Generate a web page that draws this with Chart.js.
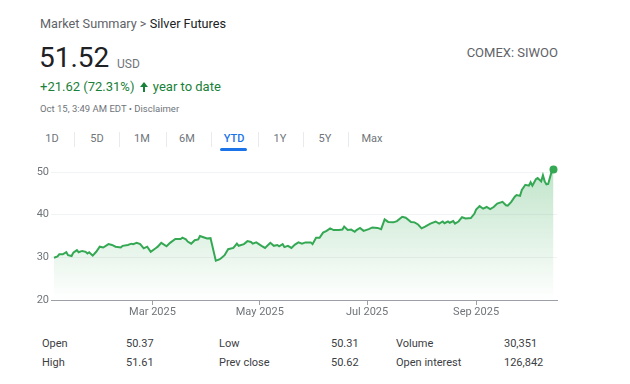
<!DOCTYPE html>
<html>
<head>
<meta charset="utf-8">
<script src="https://cdn.jsdelivr.net/npm/chart.js"></script>
<style>
  body { margin: 0; background: #fff; font-family: Roboto, Arial, sans-serif; }
  #page { position: relative; width: 630px; height: 384px; overflow: hidden; }
  .t { position: absolute; line-height: 1; white-space: nowrap; }
  .tab { position: absolute; top: 133px; font-size: 11px; line-height: 11px; color: #70757a; transform: translateX(-50%); }
  .sep { position: absolute; top: 132px; width: 1px; height: 15px; background: #e8eaed; }
  .row { position: absolute; font-size: 11px; line-height: 11px; color: #3c4043; }
  .arrow { display: inline-block; position: relative; width: 9px; height: 10px; margin: 0 1px 0 2px; vertical-align: -1px; }
  .arrow::before { content: ""; position: absolute; left: 0; top: 0; border-left: 4.5px solid transparent; border-right: 4.5px solid transparent; border-bottom: 5px solid #188038; }
  .arrow::after { content: ""; position: absolute; left: 3.5px; top: 4px; width: 2px; height: 6px; background: #188038; }
  canvas { position: absolute; left: 0; top: 150px; }
</style>
</head>
<body>
<div id="page">
  <div class="t" style="left:40px;top:18px;font-size:12.7px;color:#5f6368;">Market Summary &gt; <span style="color:#202124">Silver Futures</span></div>
  <div class="t" style="left:39px;top:44px;font-size:28px;color:#202124;">51.52</div>
  <div class="t" style="left:117px;top:58px;font-size:12px;color:#70757a;">USD</div>
  <div class="t" style="right:72px;top:46px;font-size:13px;color:#5f6368;">COMEX: SIWOO</div>
  <div class="t" style="left:40px;top:80px;font-size:13px;color:#188038;">+21.62 (72.31%) <span class="arrow"></span> year to date</div>
  <div class="t" style="left:40px;top:104px;font-size:9.5px;color:#70757a;">Oct 15, 3:49 AM EDT &bull; Disclaimer</div>

  <div class="tab" style="left:52px">1D</div>
  <div class="sep" style="left:74px"></div>
  <div class="tab" style="left:97px">5D</div>
  <div class="sep" style="left:119px"></div>
  <div class="tab" style="left:142px">1M</div>
  <div class="sep" style="left:166px"></div>
  <div class="tab" style="left:187px">6M</div>
  <div class="sep" style="left:211px"></div>
  <div class="tab" style="left:234px;color:#1a73e8;font-weight:500">YTD</div>
  <div class="sep" style="left:258px"></div>
  <div class="tab" style="left:280px">1Y</div>
  <div class="sep" style="left:303px"></div>
  <div class="tab" style="left:325px">5Y</div>
  <div class="sep" style="left:348px"></div>
  <div class="tab" style="left:372px">Max</div>
  <div style="position:absolute;left:220px;top:148px;width:27px;height:3px;border-radius:2px;background:#1a73e8"></div>

  <canvas id="chart" width="600" height="175"></canvas>

  <div class="row" style="left:42px;top:338px">Open</div>
  <div class="row" style="left:126px;top:338px">50.37</div>
  <div class="row" style="left:219px;top:338px">Low</div>
  <div class="row" style="left:331px;top:338px">50.31</div>
  <div class="row" style="left:396px;top:338px">Volume</div>
  <div class="row" style="left:504px;top:338px">30,351</div>
  <div class="row" style="left:42px;top:357px">High</div>
  <div class="row" style="left:126px;top:357px">51.61</div>
  <div class="row" style="left:219px;top:357px">Prev close</div>
  <div class="row" style="left:331px;top:357px">50.62</div>
  <div class="row" style="left:396px;top:357px">Open interest</div>
  <div class="row" style="left:504px;top:357px">126,842</div>
</div>

<script>
// day of year 2025 (Jan 1 = 0) and closing price
const days = [
  3, 5, 6, 8, 10, 11, 13, 14, 16, 17, 19, 21, 22, 23, 25, 27, 29, 31, 34, 36,
  38, 41, 42, 45, 47, 48, 50, 52, 54, 56, 58, 61, 62, 64, 67, 69, 72, 75,
  76, 78, 79, 81, 83, 85, 86, 88, 90, 92, 95, 97, 98, 100, 102, 105, 107, 108,
  111, 113, 115, 116, 118, 121, 123, 126, 128, 130, 131, 133, 134, 136, 138, 140,
  142, 144, 146,
  149, 150, 152, 154, 156, 158, 160, 162, 165, 167, 168, 170, 172, 174, 175, 177,
  179, 182, 184, 187, 189, 191, 193, 196, 198, 201, 203, 206, 208, 210, 212, 214, 217,
  220, 222, 224, 225, 227, 228, 230, 231, 233, 235, 237, 240, 242, 243, 245, 247,
  249, 251, 253, 255, 258, 260, 261, 263, 265, 266, 268, 269, 271, 273, 274, 275,
  277, 278, 280, 281, 282, 283, 284, 286, 287
];
const prices = [
  29.9, 30.2, 30.7, 30.7, 31.2, 30.5, 30.3, 31.1, 31.7, 31.2, 31.5, 31.3, 30.9, 31.2, 30.4, 31.3, 32.5, 32.3, 33.1, 32.9,
  32.5, 32.3, 32.7, 32.9, 33.2, 33.1, 33.4, 33.1, 32.1, 32.5, 31.3, 32.2, 32.5, 33.4, 32.6, 33.4, 34.3, 34.3,
  34.6, 34.2, 33.7, 33.2, 34.0, 34.2, 35.0, 34.7, 34.4, 34.5, 29.2, 29.5, 29.8, 30.5, 31.9, 32.2, 33.2, 32.7,
  33.1, 33.8, 33.6, 33.2, 33.5, 32.7, 32.2, 33.4, 32.7, 32.9, 32.6, 33.1, 32.4, 32.7, 32.2, 33.0,
  33.5, 33.2, 33.5,
  33.5, 33.1, 34.6, 34.6, 35.8, 36.2, 36.8, 36.4, 36.4, 36.5, 37.2, 36.4, 36.5, 36.0, 36.4, 36.9,
  36.2, 36.6, 37.0, 36.9, 36.6, 38.9, 38.3, 38.2, 38.5, 39.5, 39.3, 38.3, 38.2, 37.7, 36.8, 37.2, 37.9,
  38.4, 37.9, 38.4, 38.0, 38.4, 38.1, 38.5, 37.9, 38.4, 39.4, 39.1, 39.2, 40.2, 41.2, 42.0, 41.4,
  41.8, 41.3, 41.8, 42.6, 43.0, 42.2, 42.1, 43.0, 44.2, 44.6, 44.4, 45.8, 47.0, 46.8, 47.6, 46.8,
  48.3, 48.6, 47.8, 49.2, 47.8, 47.1, 47.2, 50.2, 50.6
];
const tickDays = [59, 120, 181, 243];
const tickLabels = ["Mar 2025", "May 2025", "Jul 2025", "Sep 2025"];
const yTicks = [20, 30, 40, 50];

const green = "#34a853";

new Chart(document.getElementById("chart"), {
  type: "line",
  data: {
    datasets: [{
      data: days.map((d, i) => ({ x: d, y: prices[i] })),
      borderColor: green,
      borderWidth: 2,
      tension: 0,
      clip: false,
      fill: "start",
      backgroundColor: (ctx) => {
        const area = ctx.chart.chartArea;
        if (!area) return "rgba(52,168,83,0.1)";
        const g = ctx.chart.ctx.createLinearGradient(0, area.top, 0, area.bottom);
        g.addColorStop(0, "rgba(52,168,83,0.30)");
        g.addColorStop(1, "rgba(52,168,83,0)");
        return g;
      },
      pointRadius: (ctx) => (ctx.dataIndex === prices.length - 1 ? 4 : 0),
      pointBackgroundColor: green,
      pointBorderWidth: 0,
    }],
  },
  options: {
    responsive: false,
    animation: false,
    layout: { padding: { left: 14, right: 43, top: 22, bottom: 0 } },
    plugins: { legend: { display: false }, tooltip: { enabled: false } },
    scales: {
      x: {
        type: "linear",
        min: 3,
        max: 289,
        afterFit: (s) => { s.height = 25; },
        afterBuildTicks: (s) => { s.ticks = tickDays.map((v) => ({ value: v })); },
        ticks: {
          autoSkip: false,
          maxRotation: 0,
          padding: 1,
          color: "#70757a",
          font: { family: "Roboto", size: 11 },
          callback: (v) => tickLabels[tickDays.indexOf(v)],
        },
        grid: { drawOnChartArea: false, drawTicks: true, tickLength: 5, color: "#9aa0a6" },
        border: { color: "#9aa0a6" },
      },
      y: {
        min: 20,
        max: 50,
        afterFit: (s) => { s.width = 40; },
        afterBuildTicks: (s) => { s.ticks = yTicks.map((v) => ({ value: v })); },
        ticks: { padding: 2, color: "#70757a", font: { family: "Roboto", size: 11 } },
        grid: {
          tickLength: 3,
          color: (ctx) => (ctx.tick && ctx.tick.value === 20 ? "#9aa0a6" : "#f1f3f4"),
        },
        border: { display: false },
      },
    },
  },
});
</script>
</body>
</html>
